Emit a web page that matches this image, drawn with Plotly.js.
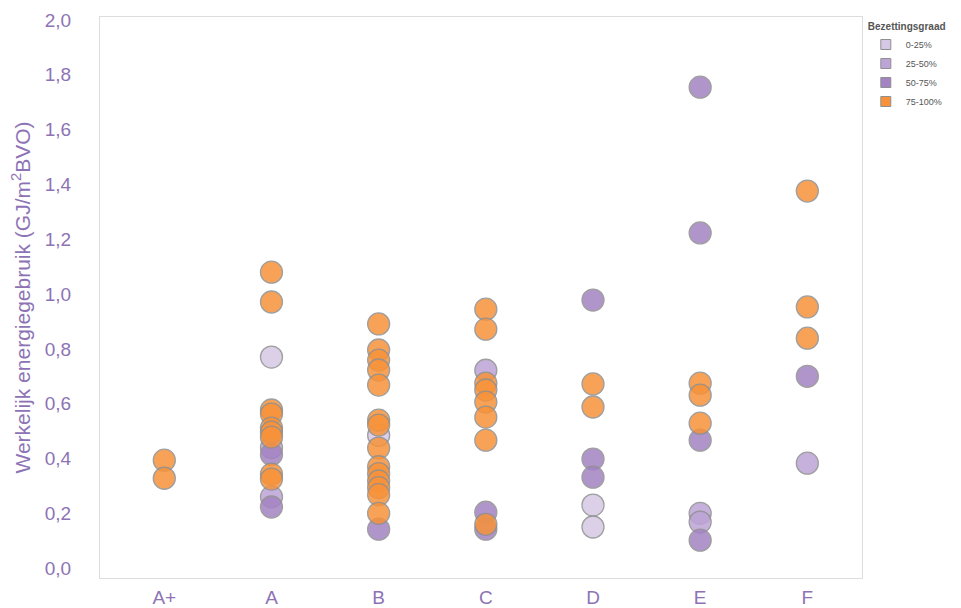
<!DOCTYPE html>
<html>
<head>
<meta charset="utf-8">
<script src="https://cdn.plot.ly/plotly-3.0.1.min.js"></script>
<style>html,body{margin:0;padding:0;background:#fff;}#chart{width:961px;height:608px;}</style>
</head>
<body>
<div id="chart"></div>
<script>
const categories = ["A+", "A", "B", "C", "D", "E", "F"];
const groups = ["0-25%", "25-50%", "50-75%", "75-100%"];

const x0_25 = ["A", "B", "D", "D"];
const y0_25 = [0.770, 0.485, 0.230, 0.150];

const x25_50 = ["A", "A", "C", "E", "E", "F"];
const y25_50 = [0.440, 0.260, 0.722, 0.200, 0.168, 0.383];

const x50_75 = ["A", "A", "B", "C", "C", "D", "D", "D", "E", "E", "E", "E", "F"];
const y50_75 = [0.415, 0.223, 0.142, 0.204, 0.142, 0.978, 0.398, 0.332, 1.755, 1.223, 0.467, 0.102, 0.700];

const x75_100 = ["A+", "A+",
  "A", "A", "A", "A", "A", "A", "A", "A", "A",
  "B", "B", "B", "B", "B", "B", "B", "B", "B", "B", "B", "B", "B", "B",
  "C", "C", "C", "C", "C", "C", "C", "C",
  "D", "D",
  "E", "E", "E",
  "F", "F", "F"];
const y75_100 = [0.394, 0.328,
  1.080, 0.971, 0.577, 0.562, 0.511, 0.496, 0.478, 0.343, 0.325,
  0.891, 0.796, 0.759, 0.723, 0.668, 0.540, 0.522, 0.438, 0.370, 0.345, 0.318, 0.294, 0.268, 0.200,
  0.945, 0.872, 0.675, 0.650, 0.606, 0.551, 0.467, 0.160,
  0.672, 0.588,
  0.675, 0.631, 0.529,
  1.376, 0.953, 0.839];

const colors = ["#d5c8e4", "#bca4d6", "#a383c3", "#f7923a"];
const purple = "#8d73b5";
const font = "Liberation Sans, Arial, sans-serif";

const xs = [x0_25, x25_50, x50_75, x75_100];
const ys = [y0_25, y25_50, y50_75, y75_100];

const traces = [];
for (let i = 0; i < groups.length; i++) {
  traces.push({
    type: "scatter", mode: "markers",
    x: xs[i], y: ys[i],
    showlegend: false,
    marker: {size: 22, color: colors[i], opacity: 0.85, line: {color: "#8f8f8f", width: 1.3}},
    hoverinfo: "x+y"
  });
}
for (let i = 0; i < groups.length; i++) {
  traces.push({
    type: "scatter", mode: "markers",
    x: [null], y: [null], name: groups[i],
    marker: {symbol: "square", size: 10, color: colors[i], line: {color: "#8f8f8f", width: 1}}
  });
}

const layout = {
  width: 961, height: 608,
  margin: {l: 100, r: 99, t: 17, b: 30},
  paper_bgcolor: "#fff", plot_bgcolor: "#fff",
  separators: ",.",
  font: {family: font, color: purple},
  showlegend: true,
  legend: {
    x: 1.005, xanchor: "left", y: 1.0, yanchor: "top",
    title: {text: "<b>Bezettingsgraad</b>", font: {size: 10, color: "#555", family: font}},
    font: {size: 9, color: "#555", family: font},
    tracegroupgap: 0, itemwidth: 30
  },
  xaxis: {
    type: "category", categoryorder: "array", categoryarray: categories,
    range: [-0.6, 6.51],
    showgrid: false, zeroline: false,
    showline: true, linecolor: "#dddddd", linewidth: 1, mirror: true,
    ticks: "", ticklabelstandoff: 2, tickfont: {size: 19, color: purple, family: font}
  },
  yaxis: {
    range: [-0.036, 2.011],
    tickvals: [0, 0.2, 0.4, 0.6, 0.8, 1.0, 1.2, 1.4, 1.6, 1.8, 2.0],
    tickformat: ".1f",
    showgrid: false, zeroline: false,
    showline: true, linecolor: "#dddddd", linewidth: 1, mirror: true,
    ticks: "", ticklabelstandoff: 24,
    tickfont: {size: 19, color: purple, family: font},
    title: {text: "Werkelijk energiegebruik (GJ/m<sup>2</sup>BVO)", font: {size: 21, color: purple, family: font}, standoff: 8}
  }
};

Plotly.newPlot("chart", traces, layout, {displayModeBar: false, responsive: false});
</script>
</body>
</html>
